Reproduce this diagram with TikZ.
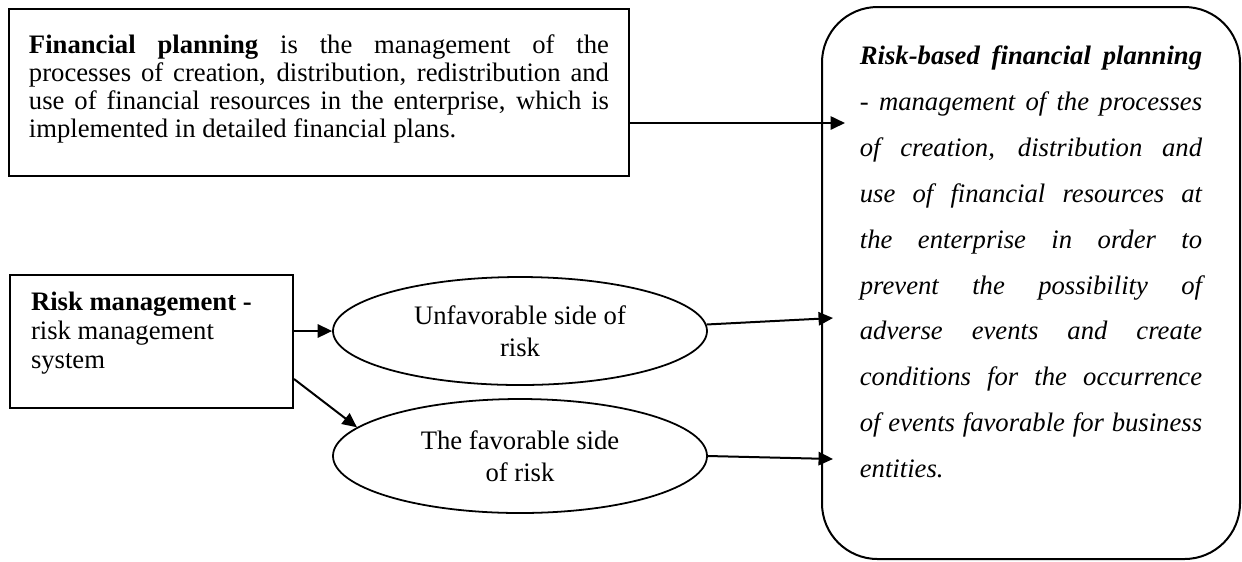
\documentclass[tikz,border=0pt]{standalone}
\usepackage{fontspec}
\setmainfont{Liberation Serif}
\usetikzlibrary{
  arrows.meta,
  shapes.geometric,
  calc
}
\tikzset{
  flowarrow/.style={-{Triangle[length=6.5pt,width=6pt]},line width=0.9pt},
  plainbox/.style={rectangle,draw,line width=0.9pt,inner xsep=9pt},
  riskside/.style={ellipse,draw,line width=0.8pt,minimum width=168.3pt,minimum height=48.6pt,align=center,inner sep=0pt,font=\fontsize{12}{14.4}\selectfont},
  roundbox/.style={rectangle,draw,line width=0.9pt,rounded corners=25pt,inner xsep=17.05pt}
}
\hyphenpenalty=10000

\begin{document}
\begin{tikzpicture}[x=0.45pt,y=-0.45pt]
    \useasboundingbox (0,0) rectangle (1242,561);

    \node[plainbox,inner ysep=11.6pt] (fp) at (319,92.5) {\parbox[c][51.95pt][t]{261pt}{\fontsize{12}{12.6}\selectfont
        \textbf{Financial planning} is the management of the\linebreak
        processes of creation, distribution, redistribution and\linebreak
        use of financial resources in the enterprise, which is\linebreak
        implemented in detailed financial plans.}};
    \node[plainbox,inner xsep=9.45pt,inner ysep=7.55pt] (rm) at (151.5,341.5) {\parbox[c][44.75pt][t]{108.45pt}{\fontsize{12}{13}\selectfont\raggedright
        \textbf{Risk management -}\\risk management\\system}};
    \node[roundbox,inner ysep=17.45pt] (rb) at (1031,283) {\parbox[c][213.5pt][t]{154pt}{\fontsize{12}{20.65}\selectfont\itshape
        \textbf{Risk-based financial planning}\linebreak
        - management of the processes\linebreak
        of creation, distribution and\linebreak
        use of financial resources at\linebreak
        the enterprise in order to\linebreak
        prevent the possibility of\linebreak
        adverse events and create\linebreak
        conditions for the occurrence\linebreak
        of events favorable for business\linebreak
        entities.}};

    \node[riskside] (e1) at (520,331) {Unfavorable side of\\risk};
    \node[riskside,minimum height=51.3pt] (e2) at (520,456) {The favorable side\\of risk};

    \coordinate (tipA) at (845,123);
    \coordinate (tipB) at (833,318);
    \coordinate (tipC) at (833,459);

    \draw[flowarrow] (fp.east |- tipA) -- (tipA);
    \draw[flowarrow] (rm.east |- e1.west) -- (e1.west);
    \draw[flowarrow] ([yshift=13.5pt]rm.south east) -- (e2.170);
    \draw[flowarrow] (e1.2) -- (tipB);
    \draw[flowarrow] (e2.east) -- (tipC);
\end{tikzpicture}
\end{document}
